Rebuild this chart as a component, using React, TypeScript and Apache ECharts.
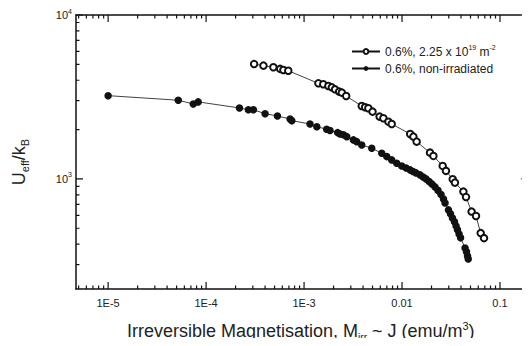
import React, { useEffect, useRef } from "react";
import * as echarts from "echarts";

// Irradiated sample (open circles): [M_irr (emu/m^3), U_eff/k_B (K)]
const irradiatedData: [number, number][] = [
  [3.09e-4, 5020], [3.85e-4, 4910], [4.86e-4, 4800], [5.7e-4, 4690], [6.15e-4, 4620],
  [6.9e-4, 4570], [1.4e-3, 3830], [1.57e-3, 3780], [1.77e-3, 3690], [1.92e-3, 3620],
  [2.07e-3, 3520], [2.28e-3, 3410], [2.43e-3, 3360], [2.69e-3, 3205], [3.88e-3, 2785],
  [4.2e-3, 2736], [4.53e-3, 2700], [5.0e-3, 2572], [5.9e-3, 2400], [6.45e-3, 2345],
  [7.26e-3, 2234], [7.85e-3, 2163], [0.0121, 1880], [0.01306, 1811], [0.0141, 1688],
  [0.0193, 1446], [0.0209, 1381], [0.026, 1200], [0.0281, 1119], [0.0329, 995],
  [0.0347, 949], [0.0423, 837], [0.045, 775], [0.0513, 632], [0.0569, 594],
  [0.0635, 467], [0.0687, 435],
];

// Non-irradiated sample (filled circles)
const nonIrradiatedData: [number, number][] = [
  [1.0e-5, 3220], [5.2e-5, 3020], [7.4e-5, 2865], [8.3e-5, 2950], [2.19e-4, 2710],
  [2.7e-4, 2640], [3.04e-4, 2640], [4.0e-4, 2500], [5.35e-4, 2420], [7.2e-4, 2320],
  [7.5e-4, 2266], [1.15e-3, 2163], [1.35e-3, 2083], [1.7e-3, 2010], [1.84e-3, 1973],
  [2.2e-3, 1916], [2.33e-3, 1880], [2.52e-3, 1860], [2.73e-3, 1811], [3.19e-3, 1730],
  [3.45e-3, 1688], [3.88e-3, 1611], [4.91e-3, 1538], [6.21e-3, 1435], [6.98e-3, 1368],
  [7.85e-3, 1306], [8.83e-3, 1247], [9.93e-3, 1200], [0.011, 1167], [0.0121, 1135],
  [0.01295, 1111], [0.0139, 1088], [0.0153, 1058], [0.0164, 1028], [0.0176, 1000],
  [0.0189, 965], [0.0202, 932], [0.0217, 894], [0.0233, 851], [0.025, 804],
  [0.0265, 755], [0.0275, 714], [0.0298, 647], [0.0312, 612], [0.0327, 578],
  [0.0343, 547], [0.0356, 517], [0.0368, 489], [0.0382, 462], [0.0396, 437],
  [0.044, 379], [0.0455, 359], [0.0466, 339], [0.0474, 325],
];

const seriesNames = ["irradiated", "non-irradiated"];
const legendLabels = ["0.6%, 2.25 x 10{sup|19} m{sup|-2}", "0.6%, non-irradiated"];

const xMajorTicks = [1e-5, 1e-4, 1e-3, 1e-2, 1e-1];
const xTickLabels = ["1E-5", "1E-4", "1E-3", "0.01", "0.1"];
const yMajorTicks = [1e3, 1e4];
const yTickLabels = ["10{sup|3}", "10{sup|4}"];
const minorMantissas = [2, 3, 4, 5, 6, 7, 8, 9];
const xMinorDecades = [1e-6, 1e-5, 1e-4, 1e-3, 1e-2, 1e-1];
const yMinorDecades = [1e2, 1e3];

const xTitle = "Irreversible Magnetisation, M{sub|irr} ~ J (emu/m{sup|3})";
const yTitle = "U{sub|eff}/k{sub|B}";

const X_MIN = 4.7e-6;
const X_MAX = 0.18;
const Y_MIN = 213;
const Y_MAX = 1e4;

const FONT = "'Liberation Sans', Arial, sans-serif";

export default function App() {
  const ref = useRef<HTMLDivElement>(null);

  useEffect(() => {
    if (!ref.current) return;
    const chart = echarts.init(ref.current, null, { renderer: "svg" });

    const fmtX = (v: number) => {
      const i = xMajorTicks.findIndex((t) => Math.abs(Math.log10(t) - Math.log10(v)) < 1e-6);
      return i >= 0 ? xTickLabels[i] : "";
    };
    const fmtY = (v: number) => {
      const i = yMajorTicks.findIndex((t) => Math.abs(Math.log10(t) - Math.log10(v)) < 1e-6);
      return i >= 0 ? yTickLabels[i] : "";
    };

    const black = "#111";

    const mainSeries: any[] = [
      {
        name: seriesNames[0],
        type: "line",
        xAxisIndex: 0,
        yAxisIndex: 0,
        data: irradiatedData,
        symbol: "emptyCircle",
        symbolSize: 6.5,
        showAllSymbol: true,
        z: 3,
        lineStyle: { color: black, width: 0.8 },
        itemStyle: { color: black, borderColor: black, borderWidth: 1.2 },
      },
      {
        name: seriesNames[1],
        type: "line",
        xAxisIndex: 0,
        yAxisIndex: 0,
        data: nonIrradiatedData,
        symbol: "circle",
        symbolSize: 7.5,
        showAllSymbol: true,
        z: 3,
        lineStyle: { color: black, width: 0.8 },
        itemStyle: { color: black },
      },
    ];

    const baseOption: any = {
      animation: false,
      grid: { left: 76, top: 15, right: 5, bottom: 57 },
      xAxis: [
        {
          type: "log",
          position: "bottom",
          min: X_MIN,
          max: X_MAX,
          axisLine: { show: true, lineStyle: { color: black, width: 1.5 } },
          axisTick: { show: false },
          splitLine: { show: false },
          axisLabel: { show: true, customValues: xMajorTicks, formatter: fmtX, fontFamily: FONT, fontSize: 11, color: "#222", margin: 8 },
        },
        {
          type: "log",
          position: "top",
          min: X_MIN,
          max: X_MAX,
          axisLine: { show: true, lineStyle: { color: black, width: 1.5 } },
          axisTick: { show: false },
          splitLine: { show: false },
          axisLabel: { show: false },
        },
      ],
      yAxis: [
        {
          type: "log",
          min: Y_MIN,
          max: Y_MAX,
          axisLine: { show: true, lineStyle: { color: black, width: 1.5 } },
          axisTick: { show: false },
          splitLine: { show: false },
          axisLabel: {
            show: true,
            customValues: yMajorTicks,
            formatter: fmtY,
            fontFamily: FONT,
            fontSize: 11,
            color: "#222",
            margin: 4,
            rich: { sup: { fontSize: 7, verticalAlign: "top", padding: [0, 0, 8, 0], fontFamily: FONT, color: "#222" } },
          },
        },
      ],
      legend: {
        orient: "vertical",
        left: 346,
        top: 39,
        itemGap: 5,
        itemWidth: 28,
        itemHeight: 6,
        data: seriesNames,
        formatter: (name: string) => legendLabels[seriesNames.indexOf(name)],
        textStyle: {
          fontFamily: FONT,
          fontSize: 12,
          color: "#222",
          rich: { sup: { fontSize: 7, verticalAlign: "top", padding: [0, 0, 8, 0], fontFamily: FONT, color: "#222" } },
        },
      },
      series: mainSeries,
    };

    chart.setOption(baseOption);

    // Ticks: short line series, their ends found through the axes' own scales
    const finder = { xAxisIndex: 0, yAxisIndex: 0 };
    const toPx = (v: [number, number]) => chart.convertToPixel(finder, v) as number[];
    const fromPx = (p: [number, number]) => chart.convertFromPixel(finder, p) as number[];
    const p0 = toPx([X_MIN, Y_MIN]);
    const p1 = toPx([X_MAX, Y_MAX]);
    const xl = p0[0], yb = p0[1], xr = p1[0], yt = p1[1];

    const tickSeries: any[] = [];
    const addSeg = (a: [number, number], b: [number, number], color: string) => {
      tickSeries.push({
        type: "line",
        xAxisIndex: 0,
        yAxisIndex: 0,
        silent: true,
        symbol: "none",
        clip: false,
        z: 4,
        lineStyle: { color, width: 1.2 },
        data: [a, b],
      });
    };
    const addX = (v: number, len: number) => {
      const yUp = fromPx([xl, yb - len])[1];
      const yDown = fromPx([xl, yt + len])[1];
      addSeg([v, Y_MIN], [v, yUp], black);
      addSeg([v, Y_MAX], [v, yDown], black);
    };
    const addY = (v: number, len: number) => {
      const xIn = fromPx([xl + len, yb])[0];
      const xInR = fromPx([xr - len * 0.6, yb])[0];
      addSeg([X_MIN, v], [xIn, v], black);
      addSeg([X_MAX, v], [xInR, v], "#777");
    };
    xMajorTicks.forEach((v) => addX(v, 7));
    xMinorDecades.forEach((d) =>
      minorMantissas.forEach((m) => {
        const v = m * d;
        if (v > X_MIN && v < X_MAX) addX(v, 3.5);
      })
    );
    yMajorTicks.forEach((v) => addY(v, 7));
    yMinorDecades.forEach((d) =>
      minorMantissas.forEach((m) => {
        const v = m * d;
        if (v > Y_MIN && v < Y_MAX) addY(v, 3.5);
      })
    );

    const graphics: any[] = [
      {
        type: "text",
        x: 127,
        y: 331,
        style: {
          text: xTitle,
          fontSize: 18,
          fontFamily: FONT,
          fill: "#222",
          lineHeight: 22,
          align: "left",
          verticalAlign: "middle",
          rich: {
            sub: { fontSize: 10, lineHeight: 13, verticalAlign: "bottom", fontFamily: FONT, fill: "#222" },
            sup: { fontSize: 11, lineHeight: 14, verticalAlign: "top", fontFamily: FONT, fill: "#222" },
          },
        },
      },
      {
        type: "text",
        x: 19,
        y: 162,
        rotation: Math.PI / 2,
        style: {
          text: yTitle,
          fontSize: 18,
          fontFamily: FONT,
          fill: "#222",
          lineHeight: 22,
          align: "center",
          verticalAlign: "middle",
          rich: {
            sub: { fontSize: 11, lineHeight: 13, verticalAlign: "bottom", fontFamily: FONT, fill: "#222" },
          },
        },
      },
    ];

    chart.setOption({ series: [...mainSeries, ...tickSeries], graphic: graphics });

    return () => chart.dispose();
  }, []);

  return <div ref={ref} style={{ width: 530, height: 346, margin: -8 }} />;
}
